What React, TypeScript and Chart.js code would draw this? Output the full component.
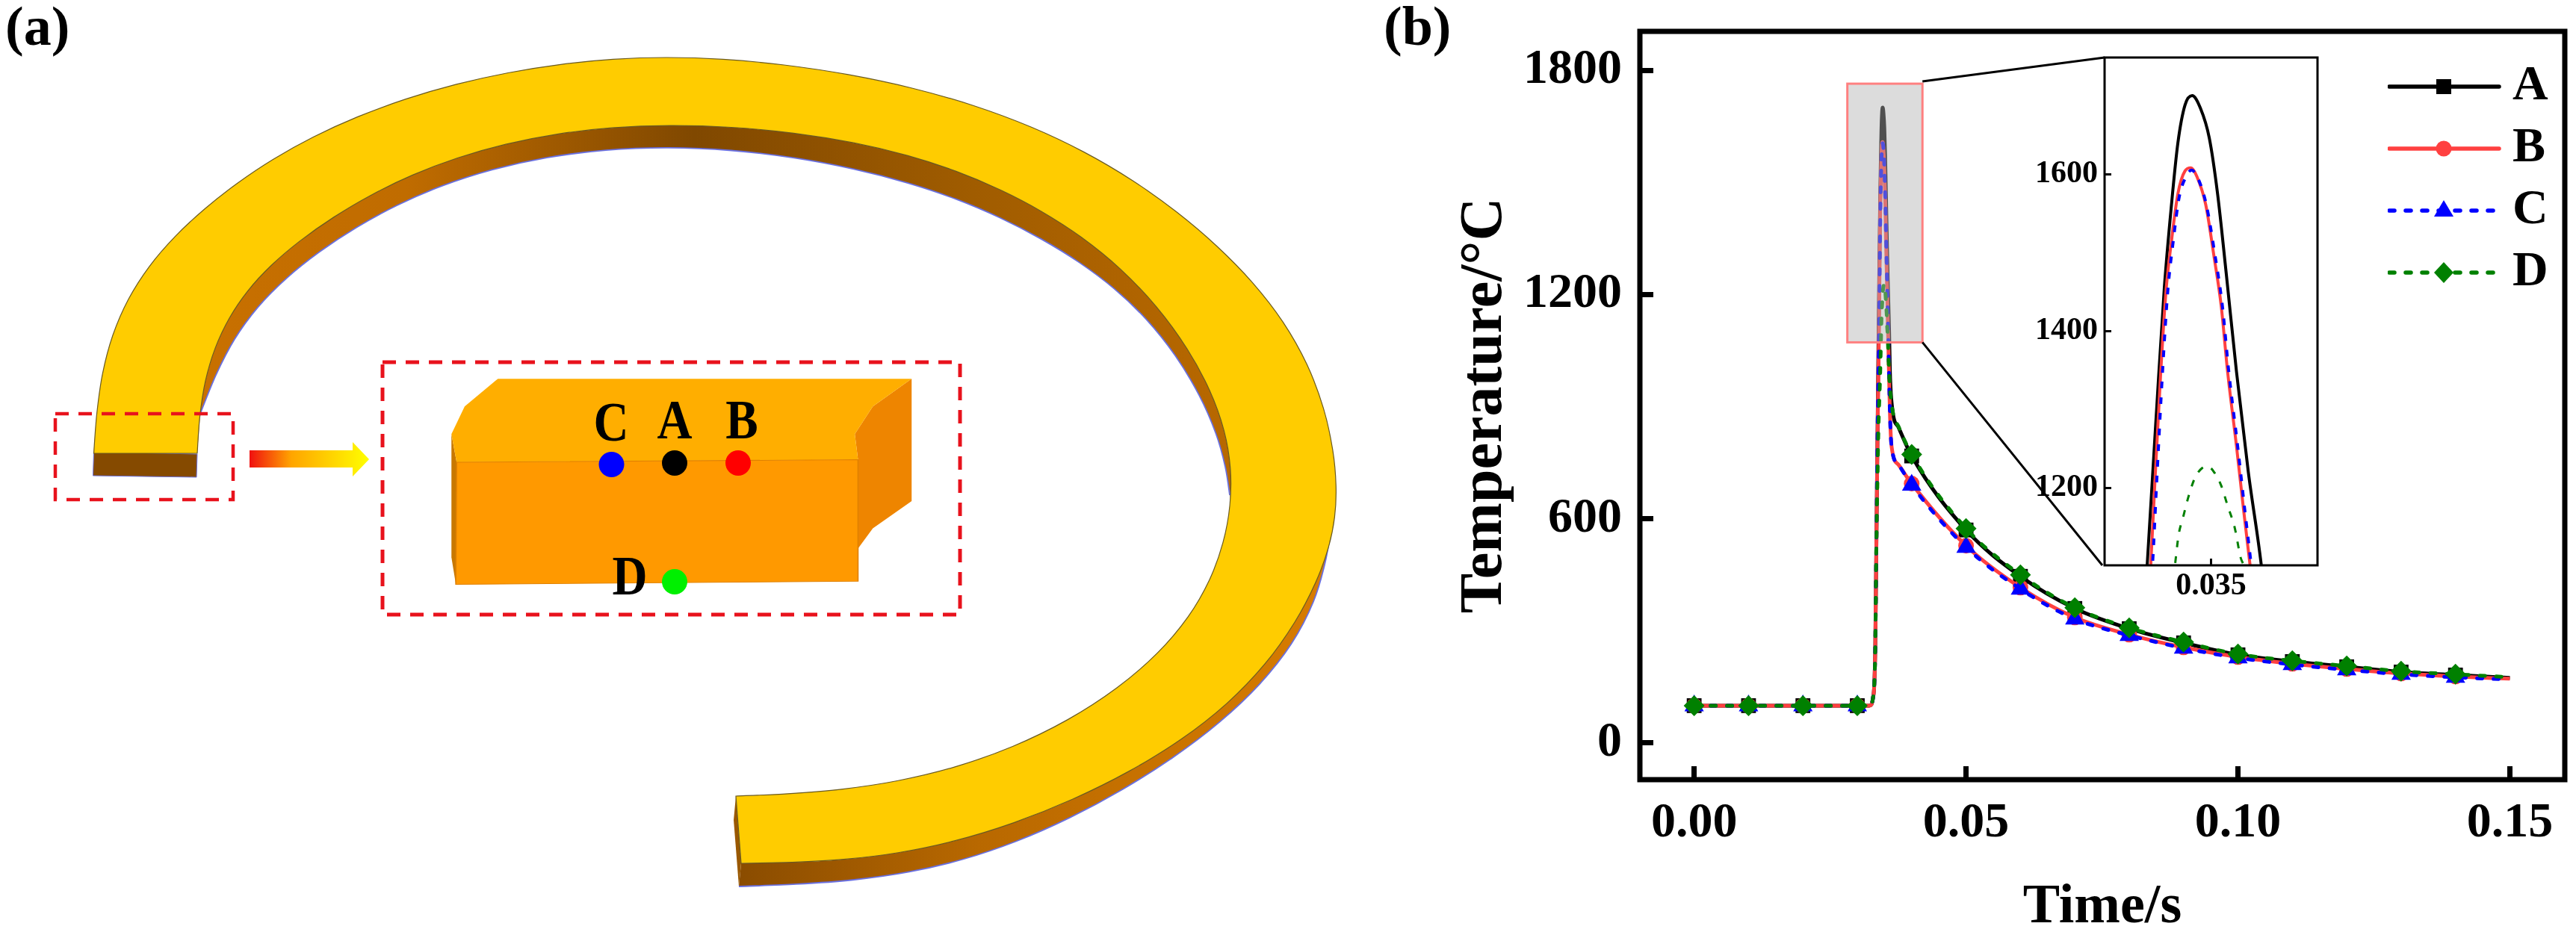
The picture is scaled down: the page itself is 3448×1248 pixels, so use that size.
import React, { useEffect, useRef } from "react";
import { Chart, registerables } from "chart.js";

Chart.register(...registerables);

const SERIF = '"Liberation Serif", serif';

const markerTimes = [0, 0.01, 0.02, 0.03, 0.04, 0.05, 0.06, 0.07, 0.08, 0.09, 0.1, 0.11, 0.12, 0.13, 0.14];
const xTicksMain = [0, 0.05, 0.1, 0.15];
const yTicksMain = [0, 600, 1200, 1800];
const xTicksInset = [0.035];
const yTicksInset = [1200, 1400, 1600];
const seriesNames = ["A", "B", "C", "D"];

const timeA = [0, 0.01, 0.02, 0.03, 0.0322, 0.0326, 0.0329, 0.0331, 0.0333, 0.0335, 0.0337, 0.03392, 0.03408, 0.03421, 0.03433, 0.03444, 0.03456, 0.03468, 0.03482, 0.03497, 0.03511, 0.03526, 0.03543, 0.03563, 0.03585, 0.036, 0.0365, 0.0376, 0.04, 0.05, 0.06, 0.07, 0.08, 0.09, 0.1, 0.11, 0.12, 0.13, 0.14, 0.15];
const tempA = [100, 100, 100, 100, 100, 103, 122, 150, 250, 520, 800, 1101, 1300, 1455, 1560, 1640, 1688, 1700, 1684, 1646, 1575, 1471, 1348, 1220, 1101, 992, 888, 844, 768, 570, 446, 360, 306, 268, 236, 218, 204, 190, 182, 174];

const timeB = [0, 0.01, 0.02, 0.03, 0.0322, 0.0326, 0.0329, 0.0331, 0.0333, 0.0335, 0.0337, 0.03398, 0.03405, 0.03415, 0.03424, 0.03433, 0.03444, 0.03456, 0.03466, 0.03476, 0.03491, 0.03505, 0.03517, 0.03528, 0.03543, 0.03555, 0.03566, 0.036, 0.0363, 0.0376, 0.04, 0.05, 0.06, 0.07, 0.08, 0.09, 0.1, 0.11, 0.12, 0.13, 0.14, 0.15];
const tempB = [100, 100, 100, 100, 100, 103, 122, 150, 250, 520, 800, 1101, 1206, 1348, 1452, 1514, 1575, 1604, 1608, 1597, 1561, 1495, 1433, 1348, 1253, 1172, 1101, 884, 794, 744, 694, 528, 416, 336, 290, 256, 230, 212, 198, 186, 178, 172];

const timeC = [0, 0.01, 0.02, 0.03, 0.0322, 0.0326, 0.0329, 0.0331, 0.0333, 0.0335, 0.0337, 0.03401, 0.03408, 0.03418, 0.03427, 0.03436, 0.03446, 0.03458, 0.03467, 0.03477, 0.03492, 0.03507, 0.03519, 0.0353, 0.03545, 0.03557, 0.03568, 0.036, 0.0363, 0.0376, 0.04, 0.05, 0.06, 0.07, 0.08, 0.09, 0.1, 0.11, 0.12, 0.13, 0.14, 0.15];
const tempC = [100, 100, 100, 100, 100, 103, 122, 150, 250, 520, 800, 1101, 1206, 1348, 1452, 1514, 1570, 1597, 1605, 1596, 1561, 1495, 1433, 1348, 1253, 1172, 1101, 884, 794, 744, 690, 524, 412, 332, 288, 254, 228, 210, 196, 184, 176, 170];

const timeD = [0, 0.01, 0.02, 0.03, 0.0322, 0.0326, 0.0329, 0.0331, 0.0333, 0.0335, 0.0337, 0.0339, 0.0342, 0.03439, 0.03445, 0.03453, 0.03462, 0.03473, 0.03485, 0.03495, 0.03505, 0.03517, 0.03528, 0.0354, 0.0355, 0.03555, 0.0359, 0.0365, 0.0376, 0.04, 0.05, 0.06, 0.07, 0.08, 0.09, 0.1, 0.11, 0.12, 0.13, 0.14, 0.15];
const tempD = [100, 100, 100, 100, 100, 103, 122, 150, 250, 520, 700, 850, 985, 1101, 1139, 1163, 1189, 1213, 1225, 1227, 1220, 1203, 1177, 1149, 1111, 1101, 972, 888, 846, 772, 574, 450, 362, 308, 270, 238, 220, 206, 192, 184, 176];

const zip = (t: number[], v: number[]) => t.map((x, i) => ({ x, y: v[i] }));
const DASH = [7, 15];
const colors = ["#000000", "#ff4040", "#0000ff", "#008000"];
const styles = ["rect", "circle", "triangle", "rectRot"];
const radii = [14, 10.5, 15, 14];
const dashes = [[], [], DASH, DASH];
const points = [zip(timeA, tempA), zip(timeB, tempB), zip(timeC, tempC), zip(timeD, tempD)];

function sample(i: number) {
  const c = document.createElement("canvas");
  c.width = 153;
  c.height = 40;
  const g = c.getContext("2d")!;
  g.strokeStyle = g.fillStyle = colors[i];
  g.lineWidth = 5.5;
  g.lineCap = "round";
  g.setLineDash(dashes[i]);
  g.beginPath();
  g.moveTo(3, 20);
  g.lineTo(dashes[i].length ? 143 : 150, 20);
  g.stroke();
  g.setLineDash([]);
  g.beginPath();
  if (i === 0) g.rect(66, 10, 20, 20);
  if (i === 1) g.arc(76, 20, 10.5, 0, Math.PI * 2);
  if (i === 2) {
    g.moveTo(76, 6);
    g.lineTo(89, 28);
    g.lineTo(63, 28);
    g.closePath();
  }
  if (i === 3) {
    g.moveTo(76, 6);
    g.lineTo(89, 20);
    g.lineTo(76, 34);
    g.lineTo(63, 20);
    g.closePath();
  }
  g.fill();
  return c;
}

const frame = (w: number) => ({
  id: "frame",
  afterDraw(chart: any) {
    const { left, right, top, bottom } = chart.chartArea;
    const g = chart.ctx;
    g.save();
    g.strokeStyle = "#000";
    g.lineWidth = w;
    g.strokeRect(left, top, right - left, bottom - top);
    g.restore();
  },
});

const zoomBox = {
  id: "zoomBox",
  afterDatasetsDraw(chart: any) {
    const { x, y } = chart.scales;
    const g = chart.ctx;
    const l = x.getPixelForValue(0.02817);
    const r = x.getPixelForValue(0.04198);
    const t = y.getPixelForValue(1764);
    const b = y.getPixelForValue(1072);
    g.save();
    g.fillStyle = "rgba(178,178,178,0.45)";
    g.fillRect(l, t, r - l, b - t);
    g.strokeStyle = "#ff8080";
    g.lineWidth = 3;
    g.strokeRect(l, t, r - l, b - t);
    g.strokeStyle = "#000";
    g.beginPath();
    g.moveTo(r, t - 3);
    g.lineTo(967, 77);
    g.moveTo(r, b);
    g.lineTo(964, 757);
    g.stroke();
    g.restore();
  },
};

const placeLegend = {
  id: "placeLegend",
  beforeDraw(chart: any) {
    const lg = chart.legend;
    lg.left = 1346;
    lg.right = 1346 + lg.width;
    lg.top = 66;
    lg.bottom = 66 + lg.height;
  },
};

// ---- panel (a) illustration outline, page pixels ----
type P = number[];

// Taubin low-pass: removes small reading wobble from an outline without shrinking it.
function soften(p: P[]) {
  let q = p.map((a) => a.slice());
  const pass = (k: number) => {
    q = q.map((a, i) =>
      i === 0 || i === q.length - 1
        ? a
        : [a[0] + k * ((q[i - 1][0] + q[i + 1][0]) / 2 - a[0]), a[1] + k * ((q[i - 1][1] + q[i + 1][1]) / 2 - a[1])]
    );
  };
  for (let n = 0; n < 12; n++) {
    pass(0.5);
    pass(-0.52);
  }
  return q;
}

const outer: P[] = soften([[125.5, 607], [128, 554], [138, 500], [151, 450], [171, 401], [202, 355], [235, 316], [273, 284], [324, 242], [365, 215], [416, 184], [478, 158], [549, 131], [610, 114], [677, 98], [753, 87], [824, 80], [896, 78], [957, 79], [1049, 88], [1141, 101], [1221, 118], [1302, 142], [1382, 172], [1451, 204], [1514, 241], [1572, 284], [1629, 331], [1675, 379], [1715, 430], [1750, 486], [1773, 546], [1783, 602], [1784, 663], [1784, 688], [1778, 726], [1761, 780], [1732, 833], [1692, 890], [1641, 944], [1583, 989], [1508, 1031], [1434, 1070], [1359, 1100], [1279, 1127], [1198, 1142], [1130, 1150], [1061, 1154], [992, 1156]]);
const inner: P[] = soften([[985, 1066], [1049, 1064], [1130, 1056], [1198, 1045], [1279, 1026], [1353, 1001], [1428, 965], [1497, 917], [1549, 875], [1589, 825], [1618, 776], [1635, 726], [1643, 680], [1646, 620], [1638, 581], [1618, 525], [1589, 469], [1549, 409], [1497, 357], [1445, 318], [1394, 286], [1336, 254], [1279, 230], [1216, 209], [1147, 193], [1061, 178], [975, 170], [900, 170], [814, 171], [748, 181], [682, 192], [610, 213], [549, 236], [503, 259], [447, 292], [401, 324], [360, 358], [335, 389], [309, 424], [289, 466], [273, 512], [266, 557], [264, 607]]);
const innerLow: P[] = soften([[268, 554], [286, 504], [314, 450], [345, 412], [386, 374], [427, 339], [478, 305], [534, 274], [590, 251], [661, 228], [728, 211], [814, 202], [896, 198], [975, 202], [1061, 211], [1147, 228], [1216, 247], [1279, 267], [1336, 290], [1394, 323], [1445, 353], [1491, 387], [1531, 426], [1572, 473], [1606, 529], [1629, 581], [1643, 637], [1646, 663]]);
const outerLow: P[] = soften([[1784, 688], [1778, 749], [1761, 803], [1727, 864], [1686, 913], [1629, 970], [1572, 1012], [1503, 1054], [1428, 1096], [1359, 1127], [1290, 1150], [1216, 1167], [1141, 1178], [1066, 1185], [989, 1187]]);

function curve(p: P[]) {
  let d = "";
  for (let i = 0; i < p.length - 1; i++) {
    const a = p[Math.max(i - 1, 0)];
    const b = p[i];
    const c = p[i + 1];
    const e = p[Math.min(i + 2, p.length - 1)];
    d += `C${b[0] + (c[0] - a[0]) / 6} ${b[1] + (c[1] - a[1]) / 6} ${c[0] - (e[0] - b[0]) / 6} ${c[1] - (e[1] - b[1]) / 6} ${c[0]} ${c[1]}`;
  }
  return d;
}
const start = (p: P[]) => `M${p[0][0]} ${p[0][1]}`;
const lineTo = (p: P[]) => `L${p[0][0]} ${p[0][1]}`;
const ringTop = start(outer) + curve(outer) + lineTo(inner) + curve(inner) + "Z";
const innerTopPart = inner.slice(12);
const innerWall = start(innerLow) + curve(innerLow) + lineTo(innerTopPart) + curve(innerTopPart) + "Z";
const outerTopPart = outer.slice(34).reverse();
const outerWall = start(outerLow) + curve(outerLow) + lineTo(outerTopPart) + curve(outerTopPart) + "Z";

const poly = (p: number[][]) => p.map((q) => q.join(",")).join(" ");

function Letter({ x, y, t }: { x: number; y: number; t: string }) {
  return (
    <text transform={`translate(${x},${y}) scale(0.88,1)`} textAnchor="middle" fontFamily={SERIF} fontWeight="bold" fontSize={74} fill="#000">
      {t}
    </text>
  );
}

function Panel() {
  return (
    <svg width={3448} height={1248} style={{ position: "absolute", left: 0, top: 0 }}>
      <defs>
        <linearGradient id="gi" gradientUnits="userSpaceOnUse" x1="268" x2="1646" y1="0" y2="0">
          <stop offset="0" stopColor="#c87000" />
          <stop offset="0.2" stopColor="#c06c00" />
          <stop offset="0.48" stopColor="#804800" />
          <stop offset="0.75" stopColor="#a05c00" />
          <stop offset="1" stopColor="#b86800" />
        </linearGradient>
        <linearGradient id="go" gradientUnits="userSpaceOnUse" x1="989" x2="1784" y1="0" y2="0">
          <stop offset="0" stopColor="#8a4c00" />
          <stop offset="0.4" stopColor="#b86800" />
          <stop offset="1" stopColor="#d87c00" />
        </linearGradient>
        <linearGradient id="ga" x1="0" x2="1" y1="0" y2="0">
          <stop offset="0" stopColor="#f01010" />
          <stop offset="0.35" stopColor="#ffa500" />
          <stop offset="1" stopColor="#ffff00" />
        </linearGradient>
      </defs>
      <path d={innerWall} fill="url(#gi)" />
      <path d={start(innerLow) + curve(innerLow)} fill="none" stroke="#6a70e0" strokeWidth={1.8} />
      <path d={outerWall} fill="url(#go)" />
      <path d={start(outerLow) + curve(outerLow)} fill="none" stroke="#6a70e0" strokeWidth={1.8} />
      <polygon points={poly([[985, 1066], [982, 1098], [989, 1187], [992, 1156]])} fill="#9a5800" />
      <polygon points={poly([[125.5, 605], [264, 608], [263, 639], [124.5, 637]])} fill="#854a00" stroke="#6a70e0" strokeWidth={1} />
      <path d={ringTop} fill="#ffcc00" stroke="#6a5a20" strokeWidth={1.2} />
      <rect x={74} y={554} width={238} height={115} fill="none" stroke="#e8121c" strokeWidth={4.5} strokeDasharray="18 13" />
      <rect x={512} y={485} width={773} height={338} fill="none" stroke="#e8121c" strokeWidth={5} strokeDasharray="18 13" />
      <polygon points="334,603 472,603 472,592 494,615 472,638 472,626 334,626" fill="url(#ga)" />
      <g transform={`translate(480,460) scale(${1 / 1.867},${1 / 2.97})`}>
        <polygon points={poly([[232, 360], [245, 472], [243, 958], [232, 850]])} fill="#c87800" />
        <polygon points={poly([[1240, 360], [1285, 250], [1382, 140], [1382, 627], [1285, 735], [1248, 815], [1248, 462]])} fill="#ee8500" />
        <polygon points={poly([[232, 360], [265, 250], [348, 140], [1382, 140], [1285, 250], [1240, 360], [1248, 462], [245, 472]])} fill="#ffae00" />
        <polygon points={poly([[245, 472], [1248, 462], [1248, 945], [243, 958]])} fill="#ff9900" stroke="#e08000" strokeWidth={3} />
      </g>
      <circle cx={818.5} cy={622} r={17} fill="#0000ff" />
      <circle cx={903} cy={620} r={17} fill="#000000" />
      <circle cx={988} cy={620} r={17} fill="#ff0000" />
      <circle cx={903} cy={779} r={17} fill="#00f000" />
      <Letter x={818} y={590} t="C" />
      <Letter x={903} y={587} t="A" />
      <Letter x={993} y={587} t="B" />
      <Letter x={843} y={796} t="D" />
      <text x={7} y={60} fontFamily={SERIF} fontWeight="bold" fontSize={74}>(a)</text>
      <text x={1852} y={60} fontFamily={SERIF} fontWeight="bold" fontSize={74}>(b)</text>
    </svg>
  );
}

export default function App() {
  const mainRef = useRef<HTMLCanvasElement>(null);
  const insetRef = useRef<HTMLCanvasElement>(null);

  useEffect(() => {
    const lab = (size: number) => ({ family: SERIF, weight: "bold" as const, size });
    const noPad = (s: any) => {
      s.paddingLeft = s.paddingRight = s.paddingTop = s.paddingBottom = 0;
    };
    const main = new Chart(mainRef.current!, {
      type: "line",
      data: {
        datasets: points.map((data, i) => ({
          label: seriesNames[i],
          data,
          order: 4 - i,
          borderColor: colors[i],
          backgroundColor: colors[i],
          borderWidth: 5,
          borderDash: dashes[i],
          borderCapStyle: dashes[i].length ? ("round" as const) : ("butt" as const),
          cubicInterpolationMode: "monotone" as const,
          pointStyle: styles[i],
          pointBorderWidth: 0,
          pointRadius: (c: any) => (markerTimes.includes(c.raw?.x) ? radii[i] : 0),
          pointHoverRadius: 0,
        })),
      },
      plugins: [placeLegend, zoomBox, frame(7)],
      options: {
        responsive: false,
        animation: false,
        devicePixelRatio: 1,
        layout: { padding: { left: 0, right: 10, top: 42, bottom: 0 } },
        scales: {
          x: {
            type: "linear",
            min: -0.00998,
            max: 0.1601,
            afterFit: (s: any) => { s.height = 204; noPad(s); },
            afterBuildTicks: (s: any) => { s.ticks = xTicksMain.map((value) => ({ value })); },
            border: { display: false },
            grid: { drawOnChartArea: false, tickLength: -18, tickWidth: 7, tickColor: "#000" },
            ticks: { autoSkip: false, maxRotation: 0, padding: 37, color: "#000", font: lab(66), callback: (v: any) => Number(v).toFixed(2) },
            title: { display: true, text: "Time/s", color: "#000", font: lab(74), padding: { top: 0, bottom: -12 } },
          },
          y: {
            min: -98,
            max: 1904,
            afterFit: (s: any) => { s.width = 345; noPad(s); },
            afterBuildTicks: (s: any) => { s.ticks = yTicksMain.map((value) => ({ value })); },
            border: { display: false },
            grid: { drawOnChartArea: false, tickLength: -18, tickWidth: 7, tickColor: "#000" },
            ticks: { autoSkip: false, padding: 42, color: "#000", font: lab(66), callback: (v: any) => String(v) },
            title: { display: true, text: "Temperature/°C", color: "#000", font: lab(80), padding: { top: 90, bottom: 0 } },
          },
        },
        plugins: {
          tooltip: { enabled: false },
          legend: {
            position: "chartArea",
            align: "start",
            labels: {
              usePointStyle: true,
              pointStyleWidth: 117,
              padding: 17,
              color: "#000",
              font: { family: SERIF, weight: "bold", size: 66, lineHeight: 1 },
              generateLabels: () =>
                seriesNames.map((text, i) => ({
                  text,
                  pointStyle: sample(i),
                  fontColor: "#000",
                  fillStyle: colors[i],
                  strokeStyle: colors[i],
                  lineWidth: 0,
                  hidden: false,
                  datasetIndex: i,
                })),
            },
          },
        },
      } as any,
    });

    const inset = new Chart(insetRef.current!, {
      type: "line",
      data: {
        datasets: points.map((data, i) => ({
          label: seriesNames[i],
          data,
          order: 4 - i,
          borderColor: colors[i],
          borderWidth: i === 3 ? 3 : 4,
          borderDash: dashes[i].length ? [9, 12] : [],
          cubicInterpolationMode: "monotone" as const,
          pointRadius: 0,
        })),
      },
      plugins: [frame(3)],
      options: {
        responsive: false,
        animation: false,
        devicePixelRatio: 1,
        layout: { padding: { left: 0, right: 8, top: 7, bottom: 0 } },
        scales: {
          x: {
            type: "linear",
            min: 0.0332,
            max: 0.0368,
            afterFit: (s: any) => { s.height = 163; noPad(s); },
            afterBuildTicks: (s: any) => { s.ticks = xTicksInset.map((value) => ({ value })); },
            border: { display: false },
            grid: { drawOnChartArea: false, tickLength: -9, tickWidth: 3, tickColor: "#000" },
            ticks: { autoSkip: false, maxRotation: 0, padding: 12, color: "#000", font: lab(42), callback: (v: any) => Number(v).toFixed(3) },
          },
          y: {
            min: 1101,
            max: 1748.6,
            afterFit: (s: any) => { s.width = 127; noPad(s); },
            afterBuildTicks: (s: any) => { s.ticks = yTicksInset.map((value) => ({ value })); },
            border: { display: false },
            grid: { drawOnChartArea: false, tickLength: -9, tickWidth: 3, tickColor: "#000" },
            ticks: { autoSkip: false, padding: 18, color: "#000", font: lab(42), callback: (v: any) => String(v) },
          },
        },
        plugins: { legend: { display: false }, tooltip: { enabled: false } },
      } as any,
    });

    return () => {
      main.destroy();
      inset.destroy();
    };
  }, []);

  return (
    <div style={{ position: "absolute", left: 0, top: 0, width: 3448, height: 1248, background: "#fff", overflow: "hidden" }}>
      <Panel />
      <canvas ref={mainRef} width={1598} height={1248} style={{ position: "absolute", left: 1850, top: 0 }} />
      <canvas ref={insetRef} width={420} height={850} style={{ position: "absolute", left: 2690, top: 70 }} />
    </div>
  );
}
